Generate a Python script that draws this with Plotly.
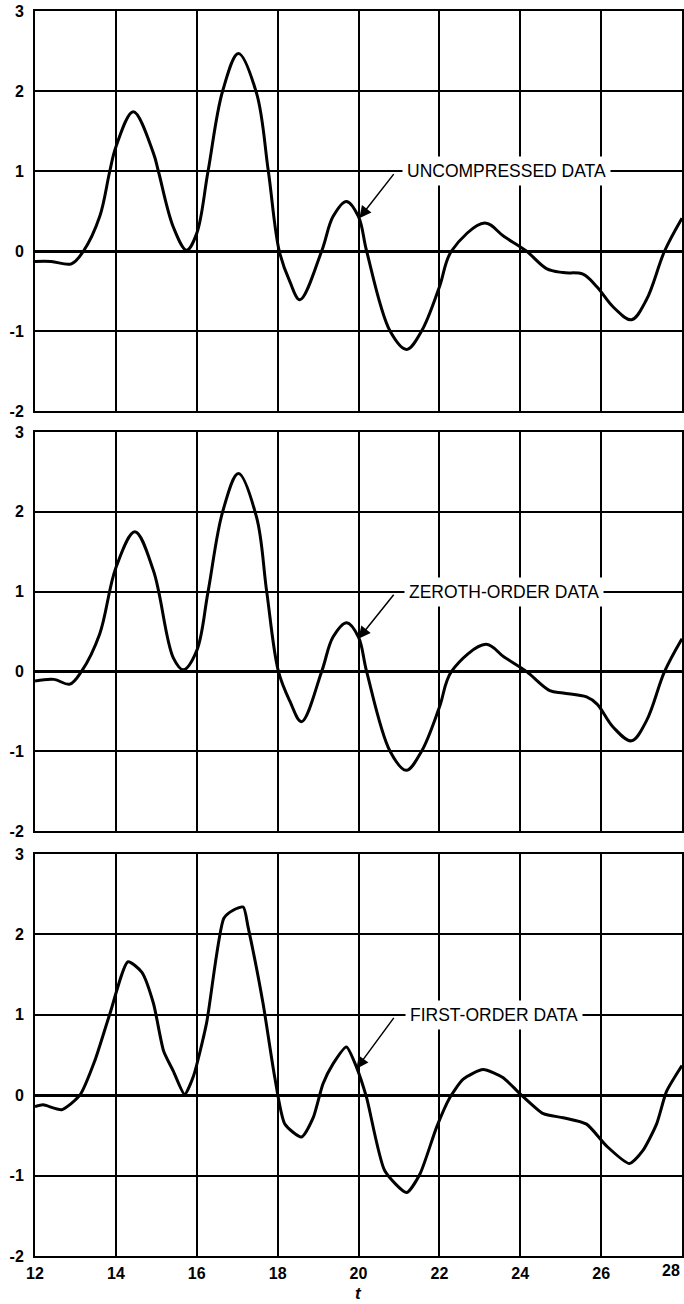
import plotly.graph_objects as go

# ---------------- data ----------------
t_uncomp = [12.0, 12.4, 12.9, 13.2, 13.6, 13.85, 14.0, 14.43, 14.93, 15.05, 15.42, 15.75,
            16.0, 16.28, 16.64, 17.03, 17.48, 17.77, 18.04, 18.3, 18.55, 19.09, 19.37,
            19.7, 20.0, 20.2, 20.78, 21.19, 21.56, 22.0, 22.3, 23.12, 23.6, 24.15, 24.65,
            25.06, 25.55, 25.9, 26.3, 26.75, 27.12, 27.57, 28.0]
y_uncomp = [-0.13, -0.13, -0.16, 0.0, 0.43, 1.0, 1.30, 1.74, 1.22, 1.0, 0.30, 0.01,
            0.22, 1.0, 2.0, 2.47, 1.97, 1.0, 0.0, -0.38, -0.61, 0.0, 0.43,
            0.62, 0.43, 0.0, -1.0, -1.23, -1.0, -0.45, 0.0, 0.35, 0.18, 0.0, -0.22,
            -0.27, -0.29, -0.45, -0.70, -0.86, -0.61, 0.0, 0.41]

t_zero = [12.0, 12.47, 12.86, 13.15, 13.6, 14.0, 14.47, 14.93, 15.42, 15.67, 16.0,
          16.28, 16.64, 17.03, 17.48, 17.73, 18.02, 18.3, 18.59, 19.09, 19.37, 19.71,
          20.0, 20.2, 20.78, 21.18, 21.56, 22.0, 22.3, 23.15, 23.6, 24.15, 24.73,
          25.06, 25.64, 25.9, 26.3, 26.75, 27.12, 27.57, 28.0]
y_zero = [-0.12, -0.10, -0.16, 0.0, 0.47, 1.30, 1.75, 1.26, 0.17, 0.02, 0.26,
          1.0, 2.0, 2.48, 1.93, 1.0, 0.0, -0.37, -0.63, 0.0, 0.43, 0.61,
          0.43, 0.0, -1.0, -1.24, -1.0, -0.45, 0.0, 0.34, 0.18, 0.0, -0.24,
          -0.27, -0.32, -0.41, -0.70, -0.87, -0.62, 0.0, 0.41]

t_first = [12.0, 12.2, 12.66, 13.11, 13.48, 13.85, 14.3, 14.64, 14.93, 15.18, 15.42,
           15.7, 15.92, 16.24, 16.67, 16.9, 17.15, 17.27, 17.64, 17.93, 18.18, 18.59,
           18.88, 19.12, 19.37, 19.7, 19.95, 20.2, 20.65, 21.19, 21.52, 21.93, 22.26,
           22.59, 23.08, 23.57, 23.99, 24.57, 25.06, 25.64, 26.13, 26.7, 27.03, 27.37,
           27.62, 28.0]
y_first = [-0.14, -0.12, -0.18, 0.0, 0.43, 1.01, 1.66, 1.53, 1.14, 0.55, 0.30,
           0.01, 0.24, 0.89, 2.20, 2.30, 2.34, 2.09, 1.14, 0.22, -0.36, -0.52,
           -0.28, 0.14, 0.39, 0.60, 0.35, -0.03, -0.94, -1.21, -0.98, -0.40, -0.03,
           0.20, 0.32, 0.22, 0.02, -0.23, -0.28, -0.36, -0.63, -0.85, -0.69, -0.36,
           0.05, 0.37]

labels = ["UNCOMPRESSED DATA", "ZEROTH-ORDER DATA", "FIRST-ORDER DATA"]
label_x = [23.65, 23.6, 23.35]
arrow_tip = [(20.02, 0.41), (20.0, 0.41), (19.95, 0.33)]

x_ticks = [12, 14, 16, 18, 20, 22, 24, 26, 28]
x_ticktext = ["12", "14", "16", "18", "20", "22", "24", "26", "28"]
y_ticks = [-2, -1, 0, 1, 2, 3]
y_ticktext = ["-2", "-1", "0", "1", "2", "3"]

# ---------------- figure ----------------
W, H = 684, 1304
ml, mr, mt, mb = 35, 2, 11, 48
plot_h = H - mt - mb
panels_px = [(11, 411), (432, 831), (854, 1256)]
domains = [[1 - (b - mt) / plot_h, 1 - (t - mt) / plot_h] for t, b in panels_px]
domains = [[max(0, d[0]), min(1, d[1])] for d in domains]

series = [(t_uncomp, y_uncomp, 1.0), (t_zero, y_zero, 1.0), (t_first, y_first, 0.6)]

fig = go.Figure()
font_family = "Liberation Sans, Arial, Helvetica, sans-serif"
tickfont = dict(family=font_family, size=16, color="black")

# the last x tick label sits flush with the right edge, so it is drawn separately
inner_ticktext = ["<b>%s</b>" % s for s in x_ticktext[:-1]] + [""]

for i, (tx, ty, sm) in enumerate(series):
    n = "" if i == 0 else str(i + 1)
    fig.add_trace(go.Scatter(
        x=tx, y=ty, mode="lines",
        line=dict(color="black", width=3, shape="spline", smoothing=sm),
        xaxis="x" + n, yaxis="y" + n, showlegend=False, hoverinfo="skip"))

    common_axis = dict(showline=True, linecolor="black", linewidth=2, mirror=True,
                       showgrid=True, gridcolor="black", gridwidth=1.6,
                       automargin=False, ticks="")
    fig.update_layout(**{
        "xaxis" + n: dict(domain=[0, 1], range=[12, 28], anchor="y" + n,
                          tickvals=x_ticks, ticktext=inner_ticktext,
                          showticklabels=(i == 2), ticklabelstandoff=2,
                          tickfont=tickfont, zeroline=False, **common_axis),
        "yaxis" + n: dict(domain=domains[i], range=[-2, 3], anchor="x" + n,
                          tickvals=y_ticks,
                          ticktext=["<b>%s</b>" % s for s in y_ticktext],
                          ticklabelstandoff=6, tickfont=tickfont,
                          zeroline=True, zerolinecolor="black", zerolinewidth=2.6,
                          **common_axis),
    })

    fig.add_annotation(x=label_x[i], y=1.0, xref="x" + n, yref="y" + n,
                       text=labels[i], showarrow=False, bgcolor="white",
                       borderpad=4, xanchor="center", yanchor="middle",
                       font=dict(family=font_family, size=17.5, color="black"))
    fig.add_annotation(x=arrow_tip[i][0], y=arrow_tip[i][1], xref="x" + n, yref="y" + n,
                       ax=20.9, ay=0.98, axref="x" + n, ayref="y" + n,
                       text="", showarrow=True, arrowhead=2, arrowsize=1.6,
                       arrowwidth=1.5, arrowcolor="black", standoff=0, startstandoff=0)

# last x tick label, right-aligned at the plot edge
fig.add_annotation(x=x_ticks[-1], y=0, xref="x3", yref="paper", yshift=-4,
                   xanchor="right", yanchor="top", text="<b>%s</b>" % x_ticktext[-1],
                   showarrow=False, font=tickfont)

fig.add_annotation(x=20, y=0, xref="x3", yref="paper", yshift=-37, yanchor="middle",
                   text="<i><b>t</b></i>", showarrow=False,
                   font=dict(family=font_family, size=17, color="black"))

fig.update_layout(width=W, height=H, margin=dict(l=ml, r=mr, t=mt, b=mb, autoexpand=False),
                  plot_bgcolor="white", paper_bgcolor="white")

fig.write_html("out.html", config={"displayModeBar": False},
               post_script="document.body.style.margin='0';document.body.style.overflow='hidden';")
